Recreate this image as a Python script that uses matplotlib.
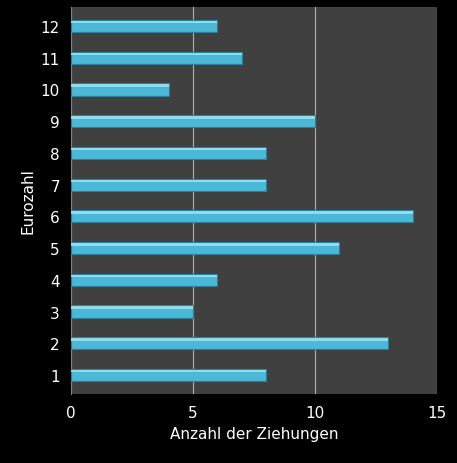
import matplotlib.pyplot as plt

eurozahl = [1, 2, 3, 4, 5, 6, 7, 8, 9, 10, 11, 12]
ziehungen = [8, 13, 5, 6, 11, 14, 8, 8, 10, 4, 7, 6]

fig = plt.figure(figsize=(4.57, 4.64), dpi=100, facecolor='black')
ax = fig.add_axes([71/457, 69/464, 366/457, 387/464])
ax.set_facecolor('#404040')

ax.barh(eurozahl, ziehungen, height=0.38, color='#4ab8d6', edgecolor='#2a7f99', linewidth=0.8, zorder=3)
# heller Rand oben auf den Balken
ax.barh([e + 0.12 for e in eurozahl], ziehungen, height=0.08, color='#8fdcef', linewidth=0, zorder=4)

ax.set_xlim(0, 15)
ax.set_ylim(0.4, 12.6)
ax.set_xticks([0, 5, 10, 15])
ax.set_yticks(eurozahl)
ax.xaxis.grid(True, color='#b0b0b0', linewidth=0.8, zorder=0)
for s in ax.spines.values():
    s.set_visible(False)
ax.spines['left'].set_visible(True)
ax.spines['left'].set_color('#808080')
ax.tick_params(colors='white', labelsize=11, length=0, pad=8)
ax.set_xlabel('Anzahl der Ziehungen', color='white', fontsize=11)
ax.set_ylabel('Eurozahl', color='white', fontsize=11)

fig.savefig('out.png', dpi=100, facecolor='black')
